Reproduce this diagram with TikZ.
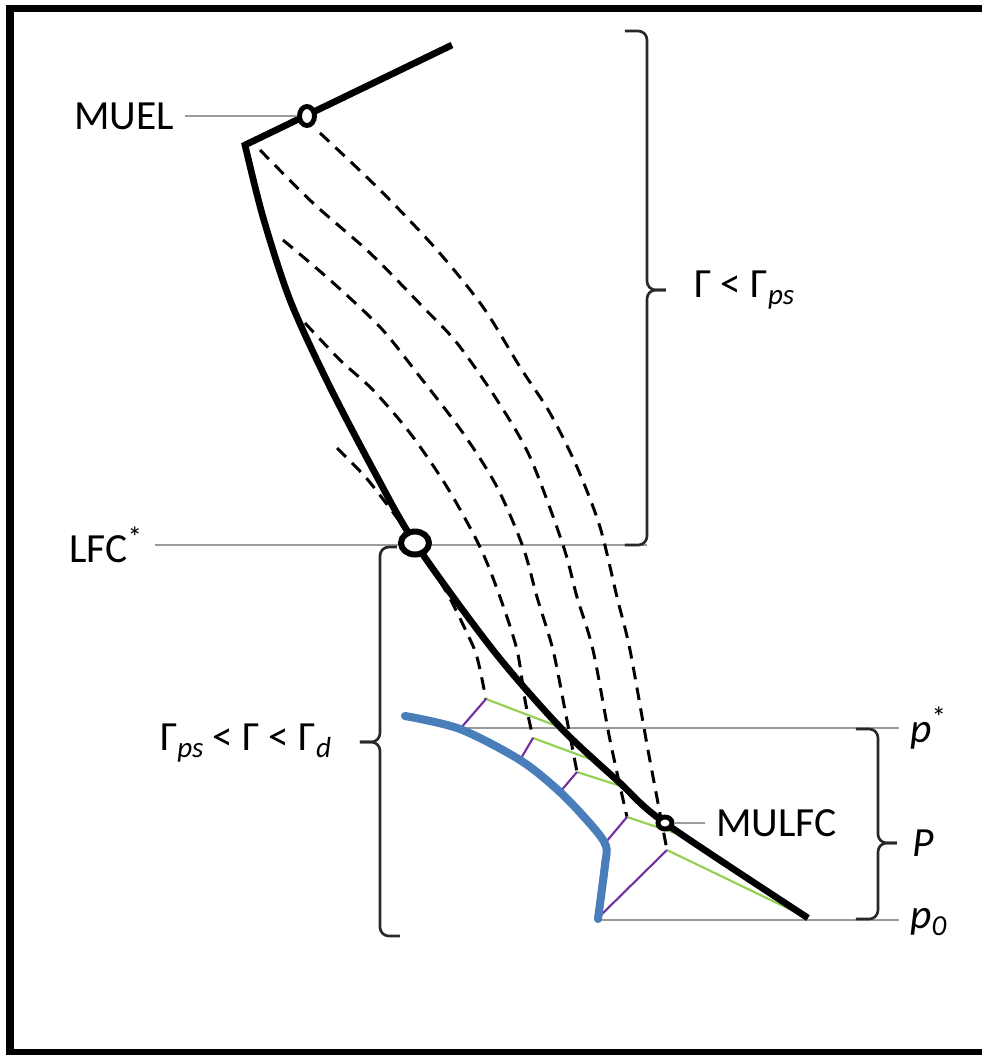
\documentclass[tikz,border=0pt]{standalone}
\usepackage{fontspec}
\setmainfont{Carlito}
\usetikzlibrary{shapes.geometric, calc}

\definecolor{leadgray}{RGB}{155,155,155}
\definecolor{bracegray}{RGB}{40,40,40}
\definecolor{mixgreen}{RGB}{146,208,80}
\definecolor{adiabpurple}{RGB}{112,48,160}
\definecolor{envblue}{RGB}{74,126,187}

\begin{document}
\begin{tikzpicture}[
    font=\fontsize{11.8}{14}\selectfont,
    profile/.style={line width=1.9pt}, % thick black sounding
    parcel/.style={line width=0.85pt, dash pattern=on 3.6pt off 2.4pt}, % dashed parcel paths
    leader/.style={leadgray, line width=0.7pt},
    bracket/.style={bracegray, line width=0.75pt, rounded corners=2.5pt},
    mixline/.style={mixgreen, line width=0.6pt},
    adiabat/.style={adiabpurple, line width=0.6pt},
    envelope/.style={envblue, line width=2.3pt, line cap=round},
    ring/.style={ellipse, draw, fill=white, inner sep=0pt, line width=1.4pt},
    lbl/.style={inner sep=3pt}
]

    \useasboundingbox (0,0) rectangle (9.82,-10.55);

    % Frame (right edge runs off the page)
    \draw[line width=2pt] (10.2,-0.08) -- (0.10,-0.08) -- (0.10,-10.53) -- (10.2,-10.53);

    % Ends of the dashed parcel paths
    \coordinate (endE) at (4.86,-6.99);
    \coordinate (endD) at (5.33,-7.38);
    \coordinate (endC) at (5.77,-7.72);
    \coordinate (endB) at (6.27,-8.17);
    \coordinate (endA) at (6.67,-8.50);

    % Where the green lines meet the sounding
    \coordinate (mixE) at (5.62,-7.28);
    \coordinate (mixD) at (5.98,-7.62);
    \coordinate (mixC) at (6.27,-7.88);
    \coordinate (mixB) at (6.87,-8.37);
    \coordinate (surf) at (8.08,-9.18);

    % Where the purple lines meet the blue curve
    \coordinate (blueE) at (4.60,-7.29);
    \coordinate (blueD) at (5.20,-7.60);
    \coordinate (blueC) at (5.60,-7.92);
    \coordinate (blueB) at (6.06,-8.42);
    \coordinate (blueA) at (5.98,-9.18);

    % Pressure levels
    \coordinate (pstarL) at (4.60,-7.28);
    \coordinate (pstarR) at (8.99,-7.28);
    \coordinate (pzeroL) at (5.97,-9.20);
    \coordinate (pzeroR) at (8.99,-9.20);
    \coordinate (lfcR) at (6.47,-5.45);

    % Labels
    \node[lbl, anchor=east] (muellbl) at (1.85,-1.16) {MUEL};
    \node[lbl, anchor=east] (lfclbl) at (1.55,-5.45) {LFC\textsuperscript{*}};
    \node[lbl, anchor=west] (mulfclbl) at (7.05,-8.23) {MULFC};
    \node[lbl, anchor=west] (upperlbl) at (6.83,-2.90) {Γ < Γ\textsubscript{\textit{ps}}};
    \node[lbl, anchor=east] (lowerlbl) at (3.44,-7.43) {Γ\textsubscript{\textit{ps}}\,< Γ < Γ\textsubscript{\textit{d}}};
    \node[lbl, anchor=west] (pstarlbl) at (8.99,-7.28) {\textit{p}\textsuperscript{*}};
    \node[lbl, anchor=west] (Plbl) at (9.01,-8.43) {\textit{P}};
    \node[lbl, anchor=west] (pzerolbl) at (8.99,-9.22) {\textit{p}\textsubscript{\textit{0}}};

    % Gray level lines
    \draw[leader] (lfclbl.east) -- (lfcR);
    \draw[leader] (pstarL) -- (pstarR);
    \draw[leader] (pzeroL) -- (pzeroR);

    % Dashed parcel paths
    \draw[parcel] plot[smooth] coordinates {(3.20,-1.33) (3.80,-1.90) (4.37,-2.50) (4.83,-3.07) (5.20,-3.67) (5.50,-4.13) (5.77,-4.67) (6.00,-5.27) (6.17,-5.97) (6.30,-6.50) (6.48,-7.50) (6.67,-8.50)};
    \draw[parcel] plot[smooth] coordinates {(2.60,-1.50) (3.13,-2.03) (3.70,-2.53) (4.23,-3.07) (4.57,-3.43) (4.97,-4.00) (5.30,-4.57) (5.63,-5.45) (5.77,-5.97) (5.93,-6.50) (6.10,-7.40) (6.27,-8.17)};
    \draw[parcel] plot[smooth] coordinates {(2.83,-2.40) (3.30,-2.80) (3.80,-3.27) (4.17,-3.73) (4.63,-4.33) (4.97,-4.87) (5.23,-5.47) (5.37,-5.97) (5.53,-6.50) (5.65,-7.10) (5.77,-7.72)};
    \draw[parcel] plot[smooth] coordinates {(3.05,-3.23) (3.40,-3.60) (3.73,-3.90) (4.10,-4.33) (4.47,-4.87) (4.80,-5.47) (5.00,-5.97) (5.17,-6.50) (5.25,-7.00) (5.33,-7.38)};
    \draw[parcel] plot[smooth] coordinates {(3.37,-4.48) (3.52,-4.63) (3.68,-4.80) (3.95,-5.15) (4.20,-5.50) (4.47,-5.93) (4.67,-6.33) (4.77,-6.57) (4.86,-6.99)};

    % Green and purple lines from the parcel ends
    \draw[mixline] (endE) -- (mixE);
    \draw[mixline] (endD) -- (mixD);
    \draw[mixline] (endC) -- (mixC);
    \draw[mixline] (endB) -- (mixB);
    \draw[mixline] (endA) -- (surf);
    \draw[adiabat] (endE) -- (blueE);
    \draw[adiabat] (endD) -- (blueD);
    \draw[adiabat] (endC) -- (blueC);
    \draw[adiabat] (endB) -- (blueB);
    \draw[adiabat] (endA) -- (blueA);

    % Blue curve
    \draw[envelope] plot[smooth, tension=0.5] coordinates {(4.05,-7.16) (4.60,-7.29) (5.20,-7.60) (5.60,-7.92) (5.93,-8.27) (6.06,-8.46) (6.05,-8.65) (5.98,-9.19)};

    % Sounding
    \draw[profile] (4.52,-0.45) -- plot[smooth] coordinates {(2.45,-1.45) (2.63,-2.17) (2.90,-3.00) (3.28,-3.83) (3.75,-4.73) (4.15,-5.43) (4.93,-6.50) (5.60,-7.27) (6.20,-7.83) (6.65,-8.23) (8.08,-9.18)};

    % Level rings
    \node[ring, minimum width=0.15cm, minimum height=0.19cm] (muel) at (3.07,-1.16) {};
    \node[ring, line width=1.7pt, minimum width=0.28cm, minimum height=0.23cm] (lfc) at (4.15,-5.43) {};
    \node[ring, minimum width=0.14cm, minimum height=0.12cm] (mulfc) at (6.65,-8.23) {};

    % Leaders to the rings
    \draw[leader] (muellbl.east) -- (muel.west);
    \draw[leader] (mulfc.east) -- (mulfclbl.west);

    % Brackets
    \draw[bracket] (6.25,-0.31) -| (6.47,-2.90) -- (6.66,-2.90);
    \draw[bracket] (6.25,-5.45) -| (6.47,-2.90) -- (6.66,-2.90);
    \draw[bracket] (3.97,-5.47) -| (3.80,-7.42) -- (3.60,-7.42);
    \draw[bracket] (4.00,-9.36) -| (3.80,-7.42) -- (3.60,-7.42);
    \draw[bracket] (8.56,-7.29) -| (8.78,-8.43) -- (8.97,-8.43);
    \draw[bracket] (8.56,-9.19) -| (8.78,-8.43) -- (8.97,-8.43);

\end{tikzpicture}
\end{document}
